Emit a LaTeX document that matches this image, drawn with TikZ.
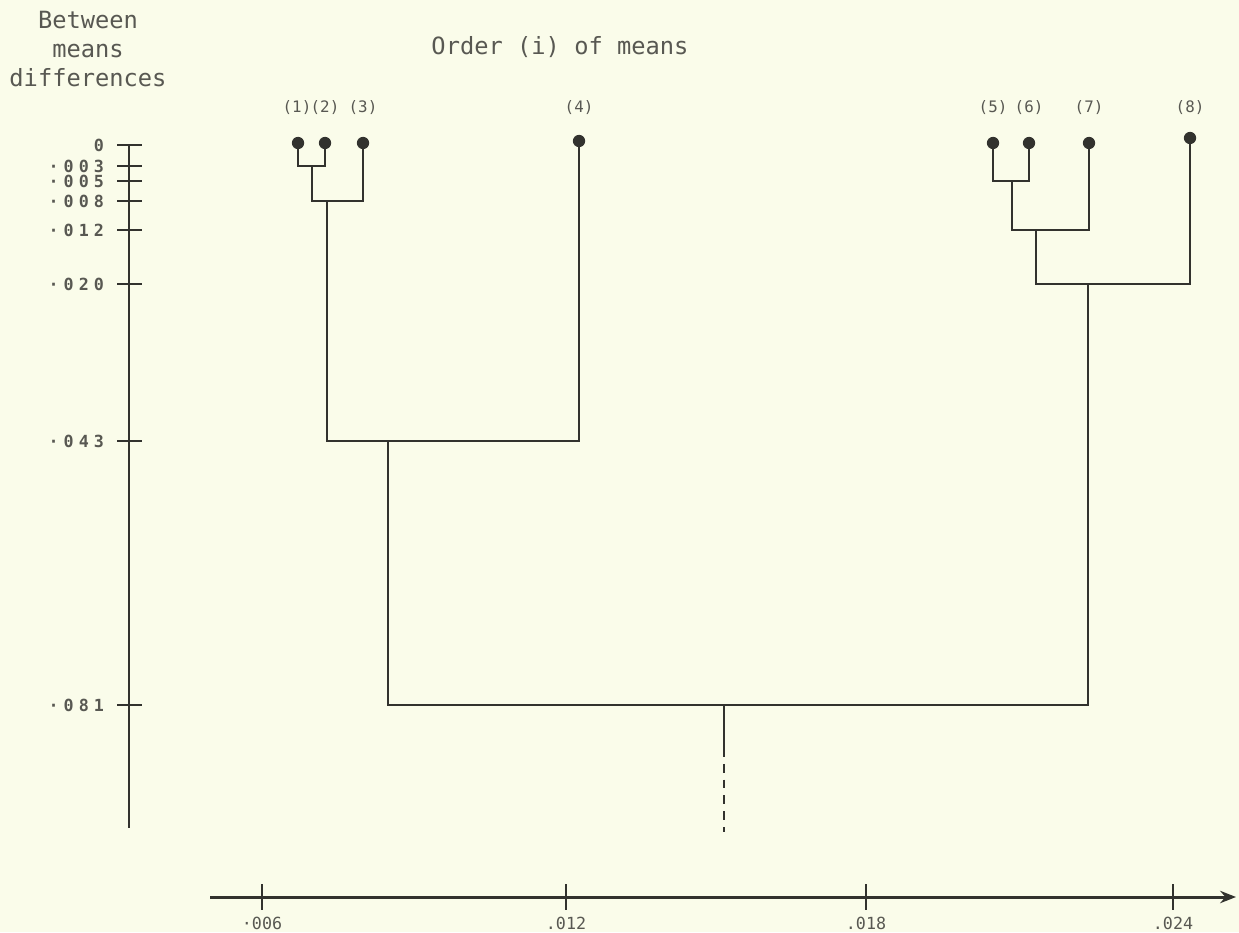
\documentclass[tikz,border=0pt]{standalone}
\usepackage{fontspec}
\setmonofont{DejaVu Sans Mono}
\usepackage{xcolor}
\definecolor{paper}{RGB}{250,252,234}
\definecolor{ink}{RGB}{50,50,46}
\definecolor{pencil}{RGB}{88,88,82}
\usetikzlibrary{arrows.meta}

\begin{document}
\begin{tikzpicture}[x=0.02cm, y=-0.02cm,
    branch/.style={line width=1.1pt, draw=ink},
    axisline/.style={line width=1.7pt, draw=ink},
    leaf/.style={circle, fill=ink, inner sep=0pt, minimum size=7pt},
    leaflab/.style={font=\ttfamily\fontsize{9}{10}\selectfont, text=pencil, inner sep=1pt},
    ticklab/.style={font=\ttfamily\bfseries\fontsize{9.5}{10}\selectfont\addfontfeature{LetterSpace=30}, text=pencil, anchor=east},
    xlab/.style={font=\ttfamily\fontsize{9.5}{10}\selectfont, text=pencil, anchor=north},
    heading/.style={font=\ttfamily\fontsize{13.5}{16.5}\selectfont, text=pencil, align=center}]
    % Paper
    \fill[paper] (0,0) rectangle (1239,932);
    \useasboundingbox (0,0) rectangle (1239,932);

    % Headings
    \node[heading] (ytitle) at (88,49) {Between\\means\\differences};
    \node[heading] (xtitle) at (560,47) {Order (i) of means};

    % Vertical scale
    \coordinate (ytop) at (129,145);
    \coordinate (ybot) at (129,828);
    \draw[axisline] (ytop) -- (ybot);
    \foreach \y/\t in {145/0, 166/·003, 181/·005, 201/·008, 230/·012, 284/·020, 441/·043, 705/·081}
        \draw[axisline, line width=1.4pt] (117,\y) -- (142,\y) node[ticklab] at (111,\y) {\t};

    % Horizontal scale
    \coordinate (xbeg) at (210,897);
    \coordinate (xend) at (1236,897);
    \draw[axisline, -{Stealth[length=9pt, width=7pt]}] (xbeg) -- (xend);
    \foreach \x/\t in {262/·006, 566/.012, 866/.018, 1173/.024}
        \draw[line width=0.9pt, ink] (\x,884) -- (\x,910) node[xlab] at (\x,910) {\t};

    % Means
    \node[leaf] (l1) at (298,143) {};
    \node[leaf] (l2) at (325,143) {};
    \node[leaf] (l3) at (363,143) {};
    \node[leaf] (l4) at (579,141) {};
    \node[leaf] (l5) at (993,143) {};
    \node[leaf] (l6) at (1029,143) {};
    \node[leaf] (l7) at (1089,143) {};
    \node[leaf] (l8) at (1190,138) {};
    \node[leaflab] (n1) at (297,108) {(1)};
    \node[leaflab] (n2) at (325,108) {(2)};
    \node[leaflab] (n3) at (363,108) {(3)};
    \node[leaflab] (n4) at (579,108) {(4)};
    \node[leaflab] (n5) at (993,108) {(5)};
    \node[leaflab] (n6) at (1029,108) {(6)};
    \node[leaflab] (n7) at (1089,108) {(7)};
    \node[leaflab] (n8) at (1190,108) {(8)};

    % Merge points
    \coordinate (m12) at (312,166);
    \coordinate (m123) at (327,201);
    \coordinate (m1234) at (388,441);
    \coordinate (m56) at (1012,181);
    \coordinate (m567) at (1036,230);
    \coordinate (m5678) at (1088,284);
    \coordinate (root) at (724,705);
    \coordinate (stub) at (724,748);
    \coordinate (tail) at (724,832);

    % Left cluster
    \draw[branch] (l1) |- (m12) -| (l2);
    \draw[branch] (m12) |- (m123) -| (l3);
    \draw[branch] (m123) |- (m1234) -| (l4);
    % Right cluster
    \draw[branch] (l5) |- (m56) -| (l6);
    \draw[branch] (m56) |- (m567) -| (l7);
    \draw[branch] (m567) |- (m5678) -| (l8);
    % Joining both
    \draw[branch] (m1234) |- (root) -| (m5678);
    \draw[branch] (root) -- (stub);
    \draw[branch, dash pattern=on 5pt off 4pt] (stub) -- (tail);
\end{tikzpicture}
\end{document}
